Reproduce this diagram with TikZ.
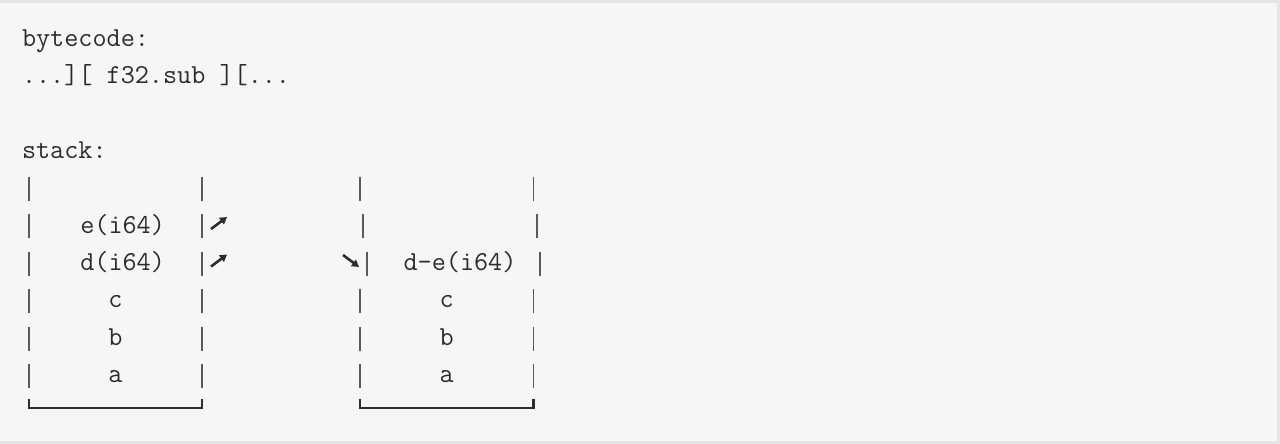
\documentclass[tikz,border=0pt]{standalone}
\usepackage{fontspec}
\usetikzlibrary{arrows.meta}
\definecolor{codebg}{RGB}{246,246,246}
\definecolor{codeframe}{RGB}{229,229,229}
\definecolor{codeink}{RGB}{44,44,44}
\definecolor{barink}{RGB}{90,90,90}

\begin{document}
\begin{tikzpicture}[x=1pt,y=-1pt,
    code/.style={font=\ttfamily\fontsize{27.4}{32}\selectfont,text=codeink,anchor=base west,inner sep=0pt},
    cell/.style={code,anchor=base},
    wall/.style={barink,line width=1.8pt},
    floor/.style={codeink,line width=2.4pt},
    arr/.style={codeink,line width=2.6pt,-{Triangle[length=7pt,width=8pt]}}]
            \useasboundingbox (0,0) rectangle (1280,444);
            \fill[codebg] (0,0) rectangle (1280,444);
            \draw[codeframe,line width=3pt] (0,1.5)--(1278.5,1.5)--(1278.5,442.5)--(0,442.5);

            \node[code] (bc) at (21.8,47) {bytecode:};
            \node[code] (ops) at (21.8,84) {...][ f32.sub ][...};
            \node[code] (stk) at (21.8,158) {stack:};

            \node[cell] (e) at (122.6,233) {e(i64)};
            \node[cell] (d) at (122.6,270) {d(i64)};
            \node[cell] (c) at (115.4,307.5) {c};
            \node[cell] (b) at (115.4,345) {b};
            \node[cell] (a) at (115.4,382) {a};

            \node[cell] (de) at (460,270) {d-e(i64)};
            \node[cell] (c2) at (446.6,307.5) {c};
            \node[cell] (b2) at (446.6,345) {b};
            \node[cell] (a2) at (446.6,382) {a};

            \draw[wall] (29,176.5)--(29,200.5) (201.7,176.5)--(201.7,200.5) (360,176.5)--(360,200.5) (533.5,176.5)--(533.5,200.5);
            \draw[wall] (29,214)--(29,238) (201.7,214)--(201.7,238) (363,214)--(363,238) (537,214)--(537,238);
            \draw[wall] (29,251.5)--(29,275.5) (201.7,251.5)--(201.7,275.5) (367,251.5)--(367,275.5) (540,251.5)--(540,275.5);
            \draw[wall] (29,289)--(29,313) (201.7,289)--(201.7,313) (360,289)--(360,313) (533.5,289)--(533.5,313);
            \draw[wall] (29,326.5)--(29,350.5) (201.7,326.5)--(201.7,350.5) (360,326.5)--(360,350.5) (533.5,326.5)--(533.5,350.5);
            \draw[wall] (29,364)--(29,388) (201.7,364)--(201.7,388) (360,364)--(360,388) (533.5,364)--(533.5,388);

            \draw[floor] (29,399)--(29,408)--(201.7,408)--(201.7,399);
            \draw[floor] (360,399)--(360,408)--(533.5,408)--(533.5,399);

            \coordinate (eout) at (211,229);
            \coordinate (eup) at (227,217);
            \coordinate (dout) at (211,266.5);
            \coordinate (dup) at (227,254.5);
            \coordinate (rin) at (343,255);
            \coordinate (rdown) at (359,267);
            \draw[arr] (eout)--(eup);
            \draw[arr] (dout)--(dup);
            \draw[arr] (rin)--(rdown);
\end{tikzpicture}
\end{document}
